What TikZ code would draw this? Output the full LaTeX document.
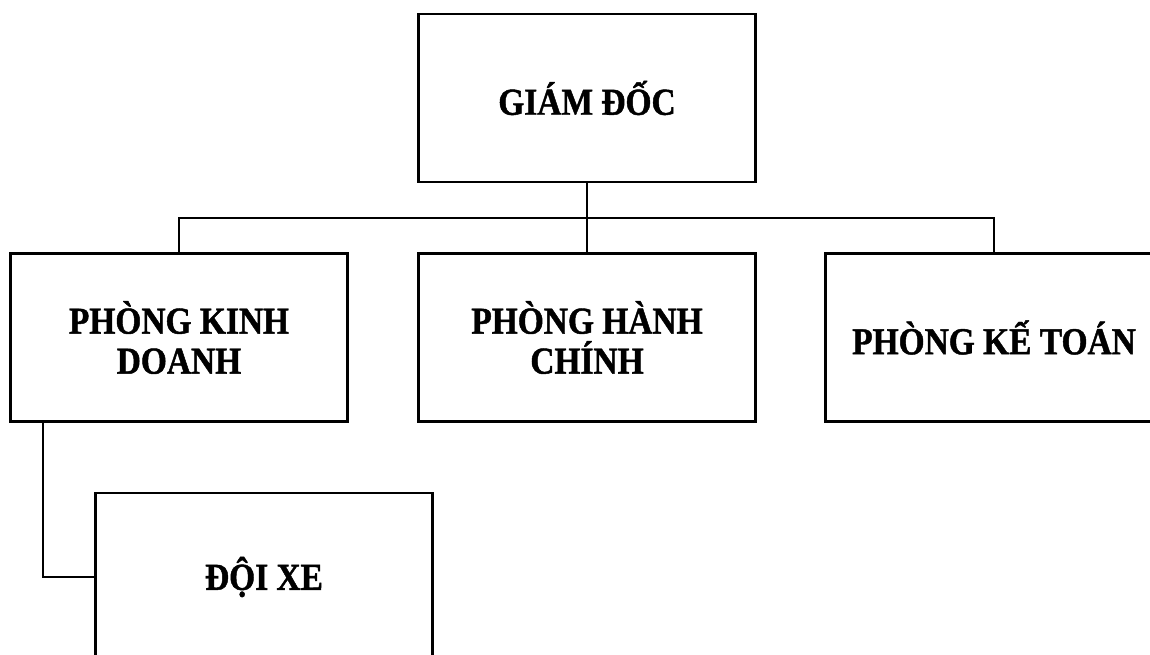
\documentclass[tikz,border=0pt]{standalone}
\usepackage{fontspec}
\setmainfont{Liberation Serif}[FakeStretch=0.88,BoldFeatures={FakeBold=1.2}]
\begin{document}
\begin{tikzpicture}[x=1pt,y=-1pt,
  box/.style={draw=black, line width=2.4pt, minimum width=337pt, minimum height=168pt, align=center, inner sep=0pt,
    font=\fontsize{38}{40}\selectfont\bfseries},
  conn/.style={draw=black, line width=2pt}]
\useasboundingbox (0,0) rectangle (1150,654);
\node[box] (gd) at (587,98) {GIÁM ĐỐC};
\node[box] (kd) at (179,337.5) {PHÒNG KINH\\DOANH};
\node[box] (hc) at (587,337.5) {PHÒNG HÀNH\\CHÍNH};
\node[box] (kt) at (994,337.5) {PHÒNG KẾ TOÁN};
\node[box] (dx) at (264,577) {ĐỘI XE};
\coordinate (bus) at (587,218);
\draw[conn] (gd.south) -- (hc.north);
\draw[conn] (kd.north) |- (bus) -| (kt.north);
\draw[conn] ([xshift=34pt]kd.south west) |- (dx.west);
\end{tikzpicture}
\end{document}
